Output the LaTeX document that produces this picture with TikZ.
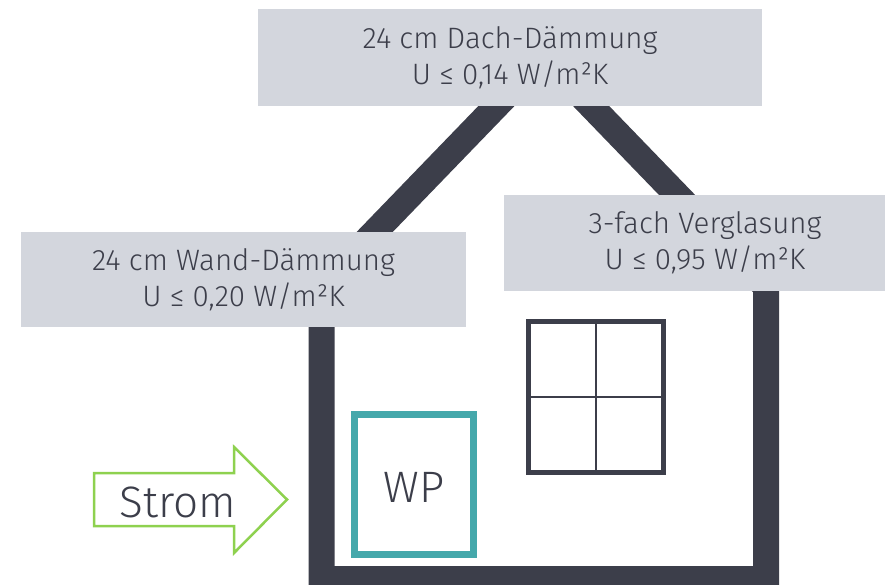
\documentclass[tikz,border=0pt]{standalone}
\usepackage{fontspec}
\setmainfont{Fira Sans Light}
\definecolor{wall}{HTML}{3C3E4A}
\definecolor{boxgray}{HTML}{D3D6DD}
\definecolor{teal}{HTML}{45A8AB}
\definecolor{strom}{HTML}{8ED14F}
\tikzset{
  house/.style={draw=wall, line width=26pt, line join=miter},
  infobox/.style={fill=boxgray, draw=none, align=center, text=wall,
    font=\fontsize{29.5}{36}\selectfont, inner sep=0pt},
  bigtext/.style={text=wall, font=\fontsize{44}{44}\selectfont, inner sep=0pt},
}
\begin{document}
\begin{tikzpicture}[x=1pt, y=-1pt]
\useasboundingbox (0,0) rectangle (885,584);

% house outline: walls and roof
\coordinate (bl) at (321.5,579);
\coordinate (wl) at (321.5,287);
\coordinate (apex) at (543.75,57);
\coordinate (wr) at (766,287);
\coordinate (br) at (766,579);
\draw[house] (bl) -- (wl) -- (apex) -- (wr) -- (br) -- cycle;

% window with cross bars
\node[draw=wall, line width=5pt, minimum width=135pt, minimum height=151pt,
  inner sep=0pt] (win) at (596,397) {};
\draw[wall, line width=2pt] (win.north) -- (win.south);
\draw[wall, line width=2pt] (win.west) -- (win.east);

% heat pump
\node[draw=teal, line width=7pt, minimum width=119pt, minimum height=140pt,
  inner sep=0pt] (wp) at (414,484.5) {};
\node[bigtext, anchor=base] (wplabel) at (414,502) {WP};

% power input arrow
\coordinate (a1) at (94,473);
\coordinate (a2) at (234,473);
\coordinate (a3) at (234,447);
\coordinate (a4) at (287,499.5);
\coordinate (a5) at (234,553);
\coordinate (a6) at (234,526);
\coordinate (a7) at (94,526);
\draw[strom, line width=2.5pt, line join=miter] (a1) -- (a2) -- (a3) -- (a4) -- (a5) -- (a6) -- (a7) -- cycle;
\node[bigtext, anchor=base] (stromlabel) at (178,517) {Strom};

% labels
\node[infobox, minimum width=504pt, minimum height=97pt] (roof) at (510,57.5)
  {24 cm Dach-Dämmung\\U ≤ 0,14 W/m²K};
\node[infobox, minimum width=445pt, minimum height=95pt] (wallbox) at (243.5,279.5)
  {24 cm Wand-Dämmung\\U ≤ 0,20 W/m²K};
\node[infobox, minimum width=402pt, minimum height=96pt] (glass) at (705,243)
  {3-fach Verglasung\\U ≤ 0,95 W/m²K};
\end{tikzpicture}
\end{document}
